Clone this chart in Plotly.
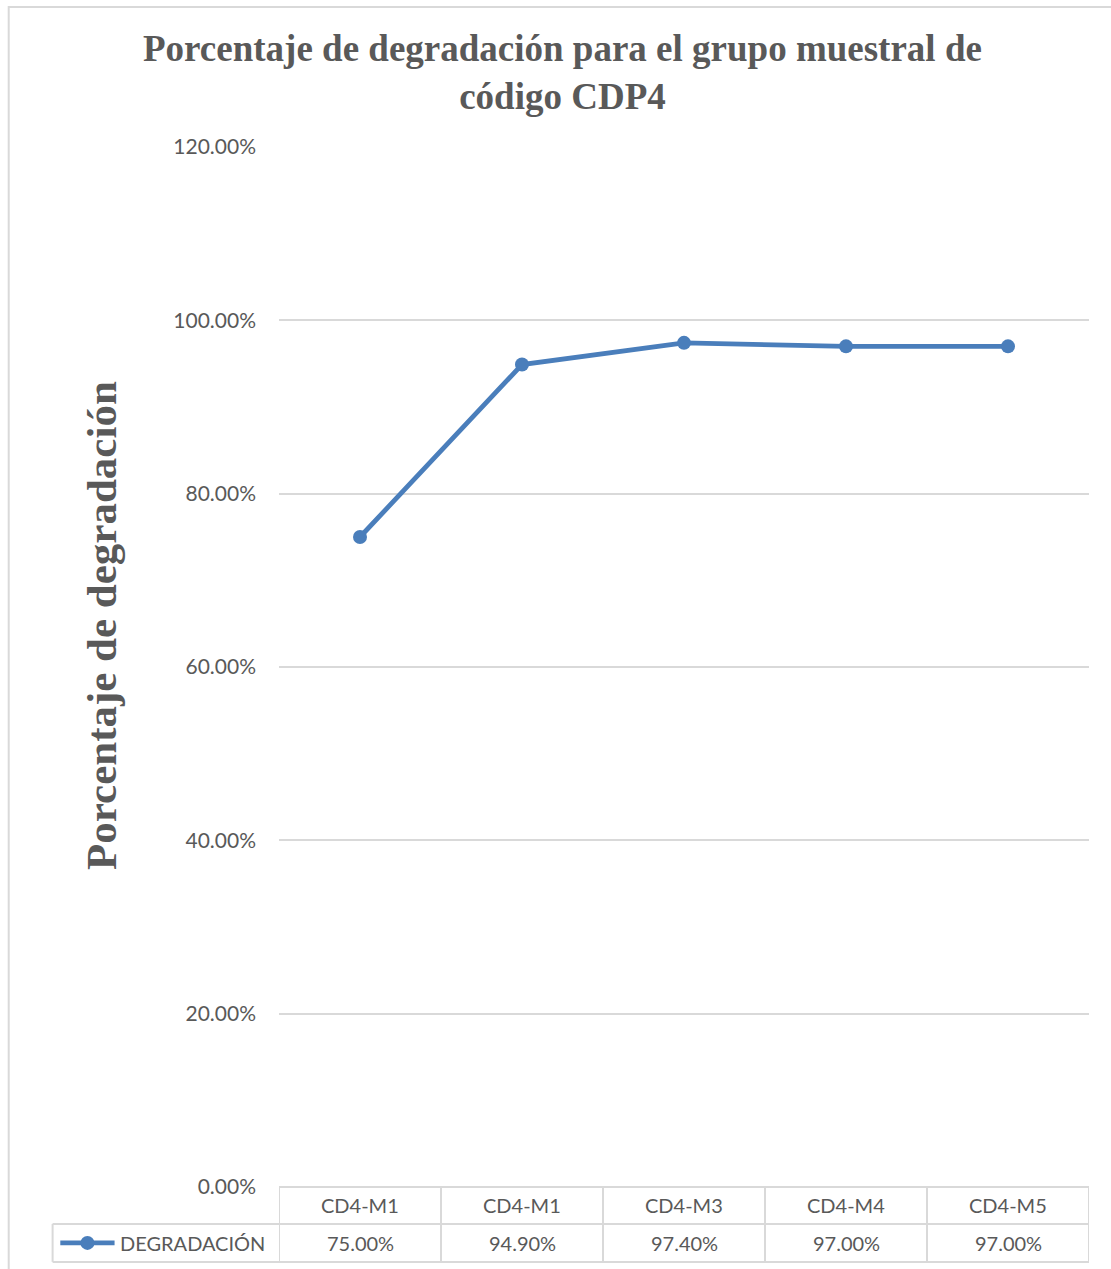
import plotly.graph_objects as go

# Series data
categories = ["CD4-M1", "CD4-M1", "CD4-M3", "CD4-M4", "CD4-M5"]
degradacion = [0.75, 0.949, 0.974, 0.970, 0.970]
series_name = "DEGRADACIÓN"
y_ticks = [0.0, 0.2, 0.4, 0.6, 0.8, 1.0, 1.2]

title_text = "Porcentaje de degradación para el grupo muestral de<br>código CDP4"
y_title = "Porcentaje de degradación"

LINE_COLOR = "#4A7EBB"
TEXT_COLOR = "#595959"
GRID_COLOR = "#D9D9D9"
SANS = "Lato, 'Open Sans', sans-serif"
SERIF = "'Liberation Serif', 'DejaVu Serif', serif"

x_idx = list(range(len(categories)))

fig = go.Figure()
fig.add_trace(go.Scatter(
    x=x_idx,
    y=degradacion,
    mode="lines+markers",
    name=series_name,
    line=dict(color=LINE_COLOR, width=4.8),
    marker=dict(color=LINE_COLOR, size=14),
    showlegend=False,
    hovertemplate="%{y:.2%}<extra></extra>",
))

shapes = []
annotations = []

# Data table under the plot area
ROW1_TOP, ROW1_BOT = 0.0, -0.0355      # category row
ROW2_BOT = -0.072                      # value row
LEG_LEFT = -0.2795                     # legend cell left edge (paper)

line_style = dict(color=GRID_COLOR, width=2)
# horizontal rules
shapes.append(dict(type="line", xref="x", yref="paper", x0=-0.5, x1=len(categories) - 0.5,
                   y0=ROW1_TOP, y1=ROW1_TOP, line=line_style))
shapes.append(dict(type="line", xref="paper", yref="paper", x0=LEG_LEFT, x1=1,
                   y0=ROW1_BOT, y1=ROW1_BOT, line=line_style))
shapes.append(dict(type="line", xref="paper", yref="paper", x0=LEG_LEFT, x1=1,
                   y0=ROW2_BOT, y1=ROW2_BOT, line=line_style))
# vertical rules between categories
for i in range(len(categories) + 1):
    shapes.append(dict(type="line", xref="x", yref="paper", x0=i - 0.5, x1=i - 0.5,
                       y0=ROW1_TOP, y1=ROW2_BOT, line=line_style))
shapes.append(dict(type="line", xref="paper", yref="paper", x0=LEG_LEFT, x1=LEG_LEFT,
                   y0=ROW1_BOT, y1=ROW2_BOT, line=line_style))

row1_mid = (ROW1_TOP + ROW1_BOT) / 2
row2_mid = (ROW1_BOT + ROW2_BOT) / 2
for i, (cat, val) in enumerate(zip(categories, degradacion)):
    annotations.append(dict(x=i, y=row1_mid, xref="x", yref="paper", text=cat,
                            showarrow=False, font=dict(family=SANS, size=20, color=TEXT_COLOR),
                            yanchor="middle"))
    annotations.append(dict(x=i, y=row2_mid, xref="x", yref="paper", text=f"{val:.2%}",
                            showarrow=False, font=dict(family=SANS, size=20, color=TEXT_COLOR),
                            yanchor="middle"))

# legend key inside the table
shapes.append(dict(type="line", xref="paper", yref="paper", x0=-0.270, x1=-0.203,
                   y0=row2_mid, y1=row2_mid, line=dict(color=LINE_COLOR, width=4.8)))
shapes.append(dict(type="circle", xref="paper", yref="paper", xsizemode="pixel", ysizemode="pixel",
                   xanchor=-0.2365, yanchor=row2_mid, x0=-7, x1=7, y0=-7, y1=7,
                   fillcolor=LINE_COLOR, line=dict(color=LINE_COLOR, width=0)))
annotations.append(dict(x=-0.199, y=row2_mid, xref="paper", yref="paper", text=series_name,
                        showarrow=False, xanchor="left", yanchor="middle",
                        font=dict(family=SANS, size=20, color=TEXT_COLOR)))

# chart title
annotations.append(dict(x=0.35, y=1.0721, xref="paper", yref="paper", text=f"<b>{title_text}</b>",
                        showarrow=False, xanchor="center", yanchor="middle",
                        font=dict(family=SERIF, size=37, color=TEXT_COLOR)))

# vertical axis title
annotations.append(dict(x=-0.219, y=0.54, xref="paper", yref="paper", text=f"<b>{y_title}</b>",
                        textangle=-90, showarrow=False, xanchor="center", yanchor="middle",
                        font=dict(family=SERIF, size=43, color=TEXT_COLOR)))

# chart border
shapes.append(dict(type="rect", xref="paper", yref="paper", x0=-0.3337, x1=1.2,
                   y0=-0.3, y1=1.1346, line=dict(color=GRID_COLOR, width=2), layer="below"))

fig.update_layout(
    width=1111,
    height=1269,
    margin=dict(l=279, r=22, t=147, b=82),
    paper_bgcolor="white",
    plot_bgcolor="white",
    xaxis=dict(range=[-0.5, len(categories) - 0.5], showticklabels=False, showgrid=False,
               zeroline=False, showline=False, fixedrange=True),
    yaxis=dict(range=[0, 1.2], tickvals=y_ticks, tickformat=".2%", showgrid=True,
               gridcolor=GRID_COLOR, gridwidth=1.5, zeroline=False, showline=False,
               ticks="", ticklabelstandoff=22,
               tickfont=dict(family=SANS, size=21, color=TEXT_COLOR), fixedrange=True),
    shapes=shapes,
    annotations=annotations,
    showlegend=False,
)

fig.write_html("out.html")
